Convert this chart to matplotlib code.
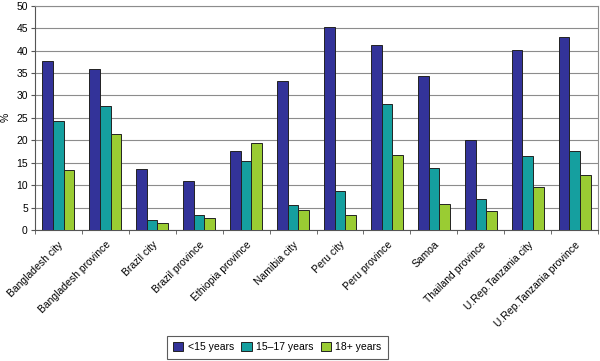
import numpy as np
import matplotlib.pyplot as plt

plt.rcParams['font.family'] = ['Liberation Sans', 'DejaVu Sans']

categories = ['Bangladesh city', 'Bangladesh province', 'Brazil city', 'Brazil province',
              'Ethiopia province', 'Namibia city', 'Peru city', 'Peru province', 'Samoa',
              'Thailand province', 'U.Rep.Tanzania city', 'U.Rep.Tanzania province']
under15 = [37.7, 35.9, 13.6, 11.0, 17.5, 33.3, 45.2, 41.2, 34.4, 20.0, 40.2, 43.1]
age15_17 = [24.2, 27.6, 2.3, 3.4, 15.3, 5.6, 8.6, 28.1, 13.8, 6.9, 16.6, 17.6]
age18plus = [13.4, 21.3, 1.6, 2.6, 19.4, 4.4, 3.3, 16.8, 5.9, 4.2, 9.5, 12.3]
series_labels = ['<15 years', '15\u201317 years', '18+ years']
colors = ['#333399', '#159f9f', '#9acc33']

fig = plt.figure(figsize=(6, 3.61), dpi=100)
ax = fig.add_axes([0.058, 0.363, 0.939, 0.621])

x = np.arange(len(categories))
w = 0.225
for i, (vals, lab, c) in enumerate(zip([under15, age15_17, age18plus], series_labels, colors)):
    ax.bar(x + (i - 1) * w, vals, w, color=c, edgecolor='#222222', linewidth=0.7,
           label=lab, zorder=3)

ax.set_xlim(-0.5, len(categories) - 0.5)
ax.set_ylim(0, 50)
ax.set_yticks(range(0, 51, 5))
ax.yaxis.grid(True, color='#8c8c8c', linewidth=0.8, zorder=0)
ax.set_ylabel('%', fontsize=7.5, labelpad=4)

ax.set_xticks(x)
ax.set_xticklabels(categories, rotation=45, ha='right', rotation_mode='anchor', fontsize=7.5)
ax.set_xticks(np.arange(-0.5, len(categories), 1), minor=True)
ax.tick_params(axis='x', which='major', length=0, pad=7)
ax.tick_params(axis='x', which='minor', length=3, color='#555555')
ax.tick_params(axis='y', length=3, labelsize=7.5, color='#555555', pad=2)

for s in ['top', 'right']:
    ax.spines[s].set_color('#8c8c8c')
for s in ['left', 'bottom']:
    ax.spines[s].set_color('#555555')

leg = fig.legend(loc='center', bbox_to_anchor=(0.462, 0.038), ncol=3, fontsize=7.5,
                 frameon=True, fancybox=False, edgecolor='#333333', handlelength=1.0,
                 handleheight=1.0, columnspacing=0.7, handletextpad=0.4, borderpad=0.6)
leg.get_frame().set_linewidth(0.8)

fig.savefig('out.png', dpi=100)
